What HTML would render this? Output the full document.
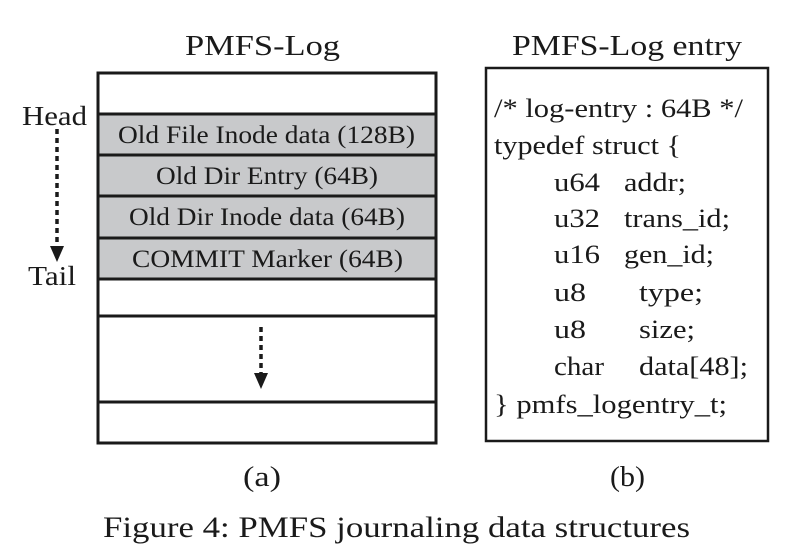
<!DOCTYPE html>
<html><head><meta charset="utf-8">
<style>
html,body{margin:0;padding:0;background:#fff;}
svg{display:block;}
text{font-family:"Liberation Serif",serif;fill:#1a1a1a;}
</style></head>
<body>
<svg width="790" height="553" viewBox="0 0 790 553" xmlns="http://www.w3.org/2000/svg">
  <text x="185" y="55" font-size="29" textLength="155" lengthAdjust="spacingAndGlyphs">PMFS-Log</text>
  <text x="512" y="55" font-size="29" textLength="230" lengthAdjust="spacingAndGlyphs">PMFS-Log entry</text>

  <g>
    <rect x="98" y="113" width="338" height="166" fill="#c8c9cb"/>
    <rect x="98" y="73" width="338" height="370" fill="none" stroke="#1a1a1a" stroke-width="3"/>
    <g stroke="#1a1a1a" stroke-width="3">
      <line x1="98" y1="114" x2="436" y2="114"/>
      <line x1="98" y1="155" x2="436" y2="155"/>
      <line x1="98" y1="196" x2="436" y2="196"/>
      <line x1="98" y1="238" x2="436" y2="238"/>
      <line x1="98" y1="279" x2="436" y2="279"/>
      <line x1="98" y1="316" x2="436" y2="316"/>
      <line x1="98" y1="402" x2="436" y2="402"/>
    </g>
    <g font-size="25" lengthAdjust="spacingAndGlyphs">
      <text x="118" y="143" textLength="297" lengthAdjust="spacingAndGlyphs">Old File Inode data (128B)</text>
      <text x="156" y="184" textLength="222" lengthAdjust="spacingAndGlyphs">Old Dir Entry (64B)</text>
      <text x="129" y="225" textLength="276" lengthAdjust="spacingAndGlyphs">Old Dir Inode data (64B)</text>
      <text x="132" y="267" textLength="271" lengthAdjust="spacingAndGlyphs">COMMIT Marker (64B)</text>
    </g>
    <line x1="261" y1="327" x2="261" y2="374" stroke="#1a1a1a" stroke-width="3.5" stroke-dasharray="5,4"/>
    <polygon points="254,373 268,373 261,389" fill="#1a1a1a"/>
  </g>

  <text x="22" y="125" font-size="27" textLength="65" lengthAdjust="spacingAndGlyphs">Head</text>
  <text x="28" y="285" font-size="27" textLength="48" lengthAdjust="spacingAndGlyphs">Tail</text>
  <line x1="57" y1="129" x2="57" y2="248" stroke="#1a1a1a" stroke-width="3.5" stroke-dasharray="5,4"/>
  <polygon points="50,246 64,246 57,262" fill="#1a1a1a"/>

  <g>
    <rect x="486" y="68" width="282" height="373" fill="none" stroke="#1a1a1a" stroke-width="2.5"/>
    <g font-size="26">
      <text x="494" y="117" textLength="249" lengthAdjust="spacingAndGlyphs">/* log-entry : 64B */</text>
      <text x="494" y="154" textLength="187" lengthAdjust="spacingAndGlyphs">typedef struct {</text>
      <text x="554" y="191" textLength="46" lengthAdjust="spacingAndGlyphs">u64</text><text x="624" y="191" textLength="62" lengthAdjust="spacingAndGlyphs">addr;</text>
      <text x="554" y="227" textLength="46" lengthAdjust="spacingAndGlyphs">u32</text><text x="624" y="227" textLength="106" lengthAdjust="spacingAndGlyphs">trans_id;</text>
      <text x="554" y="263" textLength="46" lengthAdjust="spacingAndGlyphs">u16</text><text x="624" y="263" textLength="90" lengthAdjust="spacingAndGlyphs">gen_id;</text>
      <text x="554" y="301" textLength="32" lengthAdjust="spacingAndGlyphs">u8</text><text x="639" y="301" textLength="64" lengthAdjust="spacingAndGlyphs">type;</text>
      <text x="554" y="338" textLength="32" lengthAdjust="spacingAndGlyphs">u8</text><text x="639" y="338" textLength="56" lengthAdjust="spacingAndGlyphs">size;</text>
      <text x="554" y="375" textLength="50" lengthAdjust="spacingAndGlyphs">char</text><text x="639" y="375" textLength="109" lengthAdjust="spacingAndGlyphs">data[48];</text>
      <text x="494" y="413" textLength="233" lengthAdjust="spacingAndGlyphs">} pmfs_logentry_t;</text>
    </g>
  </g>

  <text x="243" y="486" font-size="29" textLength="38" lengthAdjust="spacingAndGlyphs">(a)</text>
  <text x="610" y="486" font-size="29" textLength="35" lengthAdjust="spacingAndGlyphs">(b)</text>
  <text x="103" y="537" font-size="30" textLength="587" lengthAdjust="spacingAndGlyphs">Figure 4: PMFS journaling data structures</text>
</svg>
</body></html>
